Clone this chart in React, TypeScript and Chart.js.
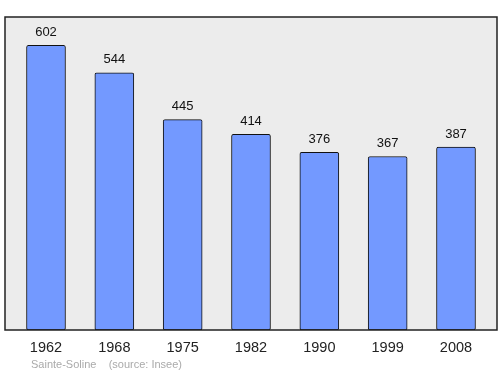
import React, { useEffect, useRef } from "react";
import { Chart, registerables } from "chart.js";

Chart.register(...registerables);

const years = ["1962", "1968", "1975", "1982", "1990", "1999", "2008"];
const population = [602, 544, 445, 414, 376, 367, 387];
const sourceText = "Sainte-Soline    (source: Insee)";

const frame = {
  id: "frame",
  beforeDatasetsDraw(chart: any) {
    const { ctx, chartArea: a } = chart;
    ctx.save();
    ctx.fillStyle = "#ececec";
    ctx.fillRect(a.left, a.top, a.right - a.left, a.bottom - a.top);
    ctx.restore();
  },
  afterDatasetsDraw(chart: any) {
    const { ctx, chartArea: a } = chart;
    ctx.save();
    ctx.strokeStyle = "#222";
    ctx.lineWidth = 1.5;
    ctx.strokeRect(a.left, a.top, a.right - a.left, a.bottom - a.top);
    const meta = chart.getDatasetMeta(0);
    ctx.fillStyle = "#111";
    ctx.font = "13px 'Liberation Sans', Arial, sans-serif";
    ctx.textAlign = "center";
    ctx.textBaseline = "alphabetic";
    meta.data.forEach((el: any, i: number) => {
      ctx.fillText(String(population[i]), el.x, el.y - 9.5);
    });
    ctx.fillStyle = "#aaaaaa";
    ctx.font = "11px 'Liberation Sans', Arial, sans-serif";
    ctx.textAlign = "left";
    ctx.fillText(sourceText, 31, 368);
    ctx.restore();
  },
};

export default function App() {
  const ref = useRef<HTMLCanvasElement>(null);
  useEffect(() => {
    document.body.style.margin = "0";
    const chart = new Chart(ref.current!, {
      type: "bar",
      data: {
        datasets: [
          {
            data: population.map((v, i) => ({ x: i, y: v })),
            backgroundColor: "#7399ff",
            borderColor: "#111",
            borderWidth: 1,
            borderRadius: 2,
            borderSkipped: false,
            barThickness: 39,
          },
        ],
      },
      options: {
        animation: false,
        responsive: false,
        maintainAspectRatio: false,
        layout: { padding: { left: 5, right: 3, top: 17, bottom: 0 } },
        plugins: { legend: { display: false }, tooltip: { enabled: false } },
        scales: {
          x: {
            type: "linear",
            offset: false,
            min: -0.6,
            max: 6.6,
            grid: { display: false },
            border: { display: false },
            afterBuildTicks(scale: any) {
              scale.ticks = years.map((_, i) => ({ value: i }));
            },
            afterFit(scale: any) {
              scale.height = 44;
            },
            ticks: {
              padding: 1,
              color: "#222",
              font: { size: 14.5, family: "'Liberation Sans', Arial, sans-serif" },
              callback: (v: any) => years[v as number] ?? "",
              autoSkip: false,
              maxRotation: 0,
            },
          },
          y: {
            display: false,
            min: 0,
            max: 662,
          },
        },
      },
      plugins: [frame],
    });
    return () => chart.destroy();
  }, []);
  return <canvas ref={ref} width={500} height={374} style={{ display: "block" }} />;
}
